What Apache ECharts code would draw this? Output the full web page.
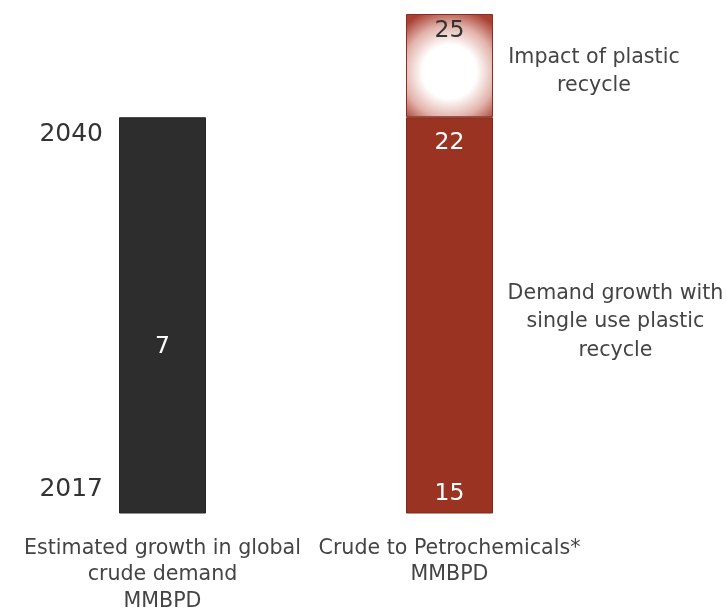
<!DOCTYPE html>
<html>
<head>
<meta charset="utf-8">
<script src="https://cdn.jsdelivr.net/npm/echarts@6/dist/echarts.min.js"></script>
<style>html,body{margin:0;padding:0;background:#fff}#c{width:727px;height:610px}</style>
</head>
<body>
<div id="c"></div>
<script>
// ---- data ----
var categories = ['Estimated growth in global\ncrude demand\nMMBPD', 'Crude to Petrochemicals*\nMMBPD'];
var yearTicks = [2017, 2040];            // y-axis tick labels
var barEndYear = [2040, 2040];           // main bars span 2017 -> 2040
var recycleExtent = [null, 6];           // visual extent of the "impact of plastic recycle" block (years above 2040)
var growthValue = 7;                     // MMBPD, left bar
var petroStart = 15;                     // MMBPD in 2017
var petroWithRecycle = 22;               // MMBPD in 2040 with recycling
var petroNoRecycle = 25;                 // MMBPD in 2040 without recycling
var annotations = ['Impact of plastic\nrecycle', 'Demand growth with\nsingle use plastic\nrecycle'];

var FONT = 'DejaVu Sans, Liberation Sans, Arial, sans-serif';
var RED = '#9a3322';
var chart = echarts.init(document.getElementById('c'));
chart.setOption({
  animation: false,
  backgroundColor: '#fff',
  textStyle: { fontFamily: FONT },
  grid: { left: 19, right: 134, top: 14, bottom: 97, containLabel: false, outerBoundsMode: 'none' },
  xAxis: {
    type: 'category', data: categories,
    axisLine: { show: false }, axisTick: { show: false },
    axisLabel: { margin: 22, fontSize: 20.6, lineHeight: 26.5, color: '#444', fontFamily: FONT, interval: 0 }
  },
  yAxis: {
    type: 'value', min: 2017, max: 2046, offset: -92,
    splitLine: { show: false }, axisLine: { show: false }, axisTick: { show: false },
    axisLabel: {
      customValues: yearTicks, margin: 8, color: '#333', fontSize: 25, fontFamily: FONT,
      formatter: function (v) { return v === 2040 ? '{t|' + v + '}' : '{b|' + v + '}'; },
      rich: {
        t: { fontSize: 25, color: '#333', padding: [35, 0, 0, 0], fontFamily: FONT },
        b: { fontSize: 25, color: '#333', padding: [0, 0, 48, 0], fontFamily: FONT }
      }
    }
  },
  series: [
    {
      type: 'bar', stack: 'a', barWidth: 87, barGap: '-100%',
      data: [
        { value: barEndYear[0], itemStyle: { color: '#2d2d2d', borderColor: '#262626', borderWidth: 1 },
          label: { show: true, position: 'inside', offset: [0, 32], formatter: String(growthValue), color: '#fff', fontSize: 23.5 } },
        { value: barEndYear[1], itemStyle: { color: RED, borderColor: '#7a2a1f', borderWidth: 1 },
          label: { show: true, position: 'insideTop', distance: 14, formatter: String(petroWithRecycle), color: '#fff', fontSize: 23.5 } }
      ]
    },
    {
      type: 'bar', stack: 'a', barWidth: 87,
      data: [
        { value: recycleExtent[0] },
        { value: recycleExtent[1],
          itemStyle: {
            borderColor: '#8a2e22', borderWidth: 1,
            color: { type: 'radial', x: 0.5, y: 0.56, r: 0.74, colorStops: [
              { offset: 0, color: '#ffffff' }, { offset: 0.42, color: '#ffffff' },
              { offset: 0.72, color: '#e2b3ab' }, { offset: 1, color: '#a94032' }] }
          },
          label: { show: true, position: 'insideTop', distance: 5, formatter: String(petroNoRecycle), color: '#333', fontSize: 23.5 } }
      ]
    },
    {
      type: 'bar', stack: 'b', barWidth: 87, barGap: '-100%',
      itemStyle: { color: 'transparent' },
      data: [
        { value: null },
        { value: barEndYear[1], label: { show: true, position: 'insideBottom', distance: 7, formatter: String(petroStart), color: '#fff', fontSize: 23.5 } }
      ]
    }
  ],
  graphic: [
    { type: 'text', x: 594, y: 44, style: { text: annotations[0], lineHeight: 28, fill: '#444', textAlign: 'center', textVerticalAlign: 'top', font: '20.6px ' + FONT } },
    { type: 'text', x: 615.5, y: 279, style: { text: annotations[1], lineHeight: 28.5, fill: '#444', textAlign: 'center', textVerticalAlign: 'top', font: '20.6px ' + FONT } }
  ]
});
</script>
</body>
</html>
